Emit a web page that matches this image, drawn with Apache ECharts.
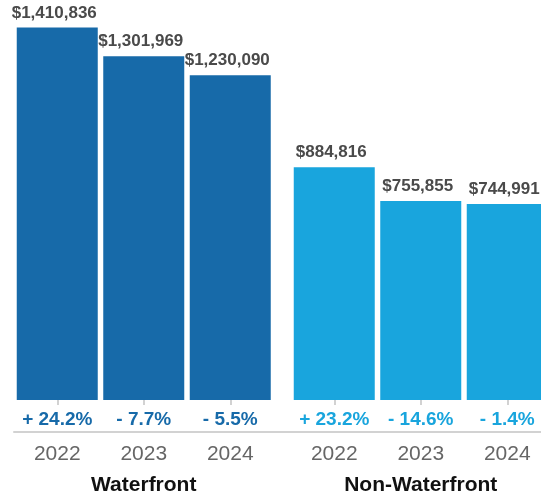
<!DOCTYPE html>
<html>
<head>
<meta charset="utf-8">
<script src="https://cdn.jsdelivr.net/npm/echarts@6/dist/echarts.min.js"></script>
<style>
  html, body { margin: 0; padding: 0; background: #ffffff; }
  #chart { width: 541px; height: 496px; }
</style>
</head>
<body>
<div id="chart"></div>
<script>
// Median sale price by year, waterfront vs non-waterfront homes
const years = ['2022', '2023', '2024'];
const waterfrontPrice = [1410836, 1301969, 1230090];
const nonWaterfrontPrice = [884816, 755855, 744991];
const waterfrontChange = [24.2, -7.7, -5.5];
const nonWaterfrontChange = [23.2, -14.6, -1.4];
const groupNames = ['Waterfront', 'Non-Waterfront'];

const DARK = '#176aa9';
const LIGHT = '#19a5dd';
const FONT = '"Liberation Sans", Arial, Helvetica, sans-serif';

const fmtPrice = v => '$' + Number(v).toLocaleString('en-US');
const fmtChange = v => (v >= 0 ? '+ ' : '- ') + Math.abs(v).toFixed(1) + '%';

function yearAxis(gridIndex, name) {
  return {
    type: 'category', gridIndex, data: years, position: 'bottom', offset: 32,
    name, nameLocation: 'middle', nameGap: 43,
    nameTextStyle: { color: '#111', fontSize: 21, fontWeight: 'bold', fontFamily: FONT },
    axisLine: { show: false },
    axisTick: { show: true, alignWithLabel: true, interval: 0, length: 5,
                lineStyle: { color: '#d2d2d2', width: 2 } },
    axisLabel: { interval: 0, margin: 12, color: '#666', fontSize: 21, fontFamily: FONT }
  };
}
function changeAxis(gridIndex, values, color) {
  return {
    type: 'category', gridIndex, data: values.map(fmtChange), position: 'bottom',
    axisLine: { show: false }, axisTick: { show: false },
    axisLabel: { interval: 0, margin: 10, color, fontSize: 19, fontWeight: 'bold', fontFamily: FONT }
  };
}
function priceAxis(gridIndex, max) {
  return { type: 'value', gridIndex, min: 0, max, show: false, splitLine: { show: false } };
}
function bars(data, xAxisIndex, yAxisIndex, color, name) {
  return {
    type: 'bar', name, data, xAxisIndex, yAxisIndex, barWidth: 81,
    itemStyle: { color },
    label: { show: true, position: 'top', distance: 6, offset: [-3, 0],
             formatter: p => fmtPrice(p.value),
             color: '#4a4a4a', fontSize: 17, fontWeight: 'bold', fontFamily: FONT }
  };
}

const chart = echarts.init(document.getElementById('chart'), null, { renderer: 'canvas' });
chart.setOption({
  animation: false,
  backgroundColor: '#ffffff',
  grid: [
    { left: 14, right: 267.5, top: 4, bottom: 96, outerBoundsMode: 'none', containLabel: false },
    { left: 291, right: -9.5, top: 4, bottom: 96, outerBoundsMode: 'none', containLabel: false },
    // shared baseline running under both groups
    { left: 14, right: -20, top: 300, bottom: 64, outerBoundsMode: 'none', containLabel: false }
  ],
  xAxis: [
    yearAxis(0, groupNames[0]),
    changeAxis(0, waterfrontChange, DARK),
    yearAxis(1, groupNames[1]),
    changeAxis(1, nonWaterfrontChange, LIGHT),
    { type: 'value', gridIndex: 2, min: 0, max: 1, position: 'bottom',
      axisLine: { show: true, lineStyle: { color: '#d2d2d2', width: 2 } },
      axisTick: { show: false }, axisLabel: { show: false }, splitLine: { show: false } }
  ],
  yAxis: [
    priceAxis(0, 1500000),
    priceAxis(1, 1505000),
    { type: 'value', gridIndex: 2, show: false, splitLine: { show: false } }
  ],
  series: [
    bars(waterfrontPrice, 0, 0, DARK, groupNames[0]),
    bars(nonWaterfrontPrice, 2, 1, LIGHT, groupNames[1])
  ]
});
</script>
</body>
</html>
